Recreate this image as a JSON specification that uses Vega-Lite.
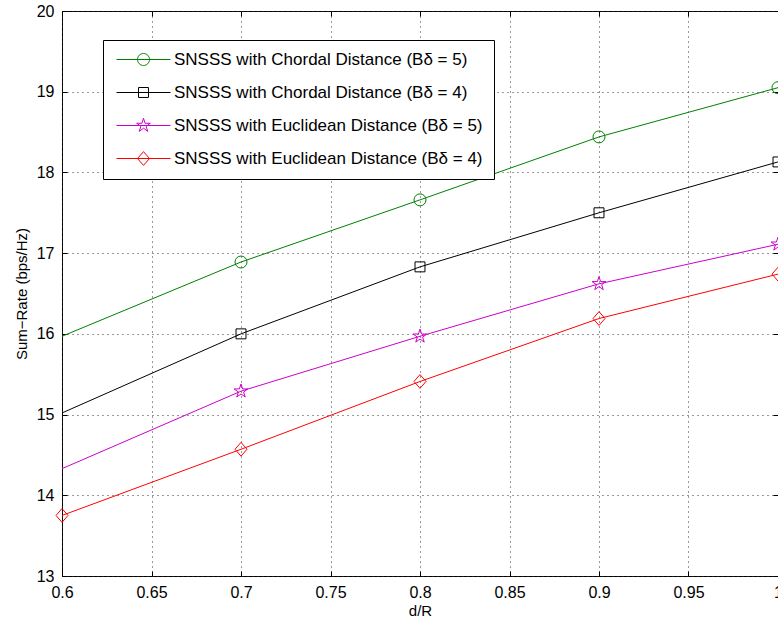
{
  "$schema": "https://vega.github.io/schema/vega-lite/v6.json",
  "width": 716,
  "height": 565,
  "autosize": {"type": "none"},
  "padding": {"left": 62, "top": 11, "right": 0, "bottom": 48},
  "background": "white",
  "config": {
    "view": {"stroke": "black", "strokeWidth": 1},
    "font": "Liberation Sans",
    "axis": {
      "labelFont": "Liberation Sans",
      "labelFontSize": 16,
      "labelColor": "black",
      "titleFont": "Liberation Sans",
      "titleFontSize": 15,
      "titleFontWeight": "normal",
      "titleColor": "black",
      "tickColor": "black",
      "domain": false,
      "gridColor": "#333333",
      "gridDash": [1, 4],
      "gridWidth": 1,
      "labelOverlap": false,
      "labelBound": false,
      "labelFlush": false
    }
  },
  "data": {
    "values": [
      {"dR": 0.6, "rate": 15.97, "s": "A"},
      {"dR": 0.7, "rate": 16.89, "s": "A"},
      {"dR": 0.8, "rate": 17.66, "s": "A"},
      {"dR": 0.9, "rate": 18.44, "s": "A"},
      {"dR": 1.0, "rate": 19.05, "s": "A"},
      {"dR": 0.6, "rate": 15.02, "s": "B"},
      {"dR": 0.7, "rate": 16.0, "s": "B"},
      {"dR": 0.8, "rate": 16.83, "s": "B"},
      {"dR": 0.9, "rate": 17.5, "s": "B"},
      {"dR": 1.0, "rate": 18.13, "s": "B"},
      {"dR": 0.6, "rate": 14.33, "s": "C"},
      {"dR": 0.7, "rate": 15.29, "s": "C"},
      {"dR": 0.8, "rate": 15.97, "s": "C"},
      {"dR": 0.9, "rate": 16.62, "s": "C"},
      {"dR": 1.0, "rate": 17.11, "s": "C"},
      {"dR": 0.6, "rate": 13.75, "s": "D"},
      {"dR": 0.7, "rate": 14.57, "s": "D"},
      {"dR": 0.8, "rate": 15.41, "s": "D"},
      {"dR": 0.9, "rate": 16.19, "s": "D"},
      {"dR": 1.0, "rate": 16.74, "s": "D"}
    ]
  },
  "layer": [
    {
      "mark": {"type": "line", "strokeWidth": 1},
      "encoding": {
        "x": {
          "field": "dR", "type": "quantitative",
          "scale": {"domain": [0.6, 1.0], "nice": false, "zero": false},
          "axis": {"orient": "bottom", "values": [0.6, 0.65, 0.7, 0.75, 0.8, 0.85, 0.9, 0.95, 1.0], "format": "~g", "title": "d/R", "tickSize": -5, "labelPadding": 13, "titlePadding": 3, "grid": true}
        },
        "y": {
          "field": "rate", "type": "quantitative",
          "scale": {"domain": [13, 20], "nice": false, "zero": false},
          "axis": {"orient": "left", "values": [13, 14, 15, 16, 17, 18, 19, 20], "title": "Sum−Rate (bps/Hz)", "tickSize": -5, "labelPadding": 13, "titlePadding": 7, "grid": true}
        },
        "color": {
          "field": "s", "type": "nominal",
          "scale": {"domain": ["A", "B", "C", "D"], "range": ["#008000", "#000000", "#cc00cc", "#ff0000"]},
          "legend": {
            "orient": "none",
            "legendX": 41,
            "legendY": 29,
            "title": null,
            "padding": 11,
            "rowPadding": 15,
            "strokeColor": "black",
            "fillColor": "white",
            "cornerRadius": 0,
            "labelFont": "Liberation Sans",
            "labelFontSize": 17,
            "labelColor": "black",
            "labelLimit": 600,
            "symbolSize": 144,
            "symbolOffset": 21,
            "labelOffset": 22,
            "symbolStrokeWidth": 1,
            "labelExpr": "datum.value === 'A' ? 'SNSSS with Chordal Distance (Bδ = 5)' : datum.value === 'B' ? 'SNSSS with Chordal Distance (Bδ = 4)' : datum.value === 'C' ? 'SNSSS with Euclidean Distance (Bδ = 5)' : 'SNSSS with Euclidean Distance (Bδ = 4)'",
            "encode": {
              "symbols": {
                "update": {
                  "shape": {"signal": "datum.value === 'A' ? 'M-4.5,0H4.5M1,0A1,1 0 1,1 -1,0A1,1 0 1,1 1,0' : datum.value === 'B' ? 'M-4.5,0H4.5M-0.83,-0.83H0.83V0.83H-0.83Z' : datum.value === 'C' ? 'M-4.5,0H4.5M0,-1.2L0.27,-0.372L1.141,-0.371L0.437,0.142L0.705,0.971L0,0.46L-0.705,0.971L-0.437,0.142L-1.141,-0.371L-0.27,-0.372Z' : 'M-4.5,0H4.5M0,-1.15L1,0L0,1.15L-1,0Z'"},
                  "fill": {"value": "transparent"},
                  "strokeWidth": {"value": 1}
                }
              }
            }
          }
        }
      }
    },
    {
      "transform": [{"filter": "datum.s === 'A' && datum.dR > 0.65"}],
      "mark": {"type": "point", "filled": false, "strokeWidth": 1, "size": 144, "opacity": 1, "shape": "circle", "stroke": "#008000"},
      "encoding": {
        "x": {
          "field": "dR", "type": "quantitative",
          "axis": {"orient": "top", "values": [0.6, 0.65, 0.7, 0.75, 0.8, 0.85, 0.9, 0.95, 1.0], "labels": false, "title": null, "tickSize": -5, "grid": false}
        },
        "y": {
          "field": "rate", "type": "quantitative",
          "axis": {"orient": "right", "values": [13, 14, 15, 16, 17, 18, 19, 20], "labels": false, "title": null, "tickSize": -5, "grid": false}
        }
      }
    },
    {
      "transform": [{"filter": "datum.s === 'B' && datum.dR > 0.65"}],
      "mark": {"type": "point", "filled": false, "strokeWidth": 1, "size": 144, "opacity": 1, "shape": "M-0.83,-0.83H0.83V0.83H-0.83Z", "stroke": "#000000"},
      "encoding": {
        "x": {"field": "dR", "type": "quantitative", "axis": null},
        "y": {"field": "rate", "type": "quantitative", "axis": null}
      }
    },
    {
      "transform": [{"filter": "datum.s === 'C' && datum.dR > 0.65"}],
      "mark": {"type": "point", "filled": false, "strokeWidth": 1, "size": 144, "opacity": 1, "shape": "M0,-1.2L0.27,-0.372L1.141,-0.371L0.437,0.142L0.705,0.971L0,0.46L-0.705,0.971L-0.437,0.142L-1.141,-0.371L-0.27,-0.372Z", "stroke": "#cc00cc"},
      "encoding": {
        "x": {"field": "dR", "type": "quantitative", "axis": null},
        "y": {"field": "rate", "type": "quantitative", "axis": null}
      }
    },
    {
      "transform": [{"filter": "datum.s === 'D'"}],
      "mark": {"type": "point", "filled": false, "strokeWidth": 1, "size": 144, "opacity": 1, "shape": "M0,-1.15L1,0L0,1.15L-1,0Z", "stroke": "#ff0000"},
      "encoding": {
        "x": {"field": "dR", "type": "quantitative", "axis": null},
        "y": {"field": "rate", "type": "quantitative", "axis": null}
      }
    }
  ],
  "resolve": {"axis": {"x": "independent", "y": "independent"}}
}
